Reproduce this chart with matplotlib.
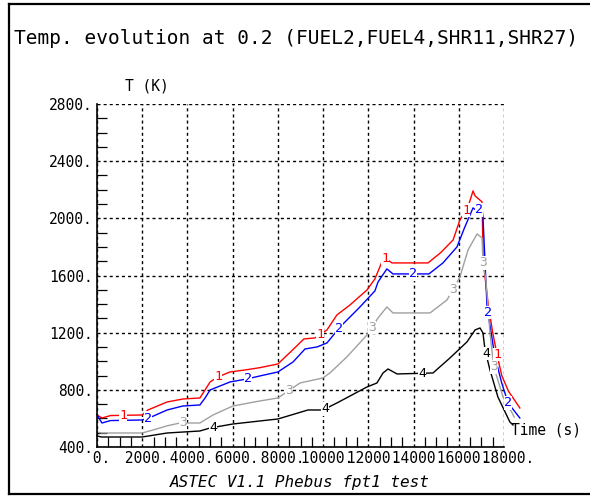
import numpy as np
import matplotlib
matplotlib.use("Agg")
import matplotlib.pyplot as plt
from matplotlib.lines import Line2D

# ---------------- data ----------------
t_fuel2 = [0, 220, 600, 2000, 2250, 3100, 3800, 4550, 4780, 5000, 5350, 5880, 6550, 7200,
           8000, 8650, 9150, 9640, 10170, 10610, 11190, 11940, 12290, 12600, 12750, 13050,
           14640, 15200, 15750, 16050, 16410, 16630, 16720, 17030, 17080, 17300, 17500,
           17700, 17900, 18200, 18500, 18700]
T_fuel2 = [624, 603, 620, 624, 659, 715, 736, 743, 799, 855, 890, 925, 939, 955,
           981, 1079, 1156, 1163, 1219, 1324, 1394, 1499, 1576, 1695, 1720, 1688,
           1688, 1760, 1849, 1989, 2080, 2192, 2157, 2115, 1700, 1400, 1200,
           1040, 900, 790, 720, 673]

t_fuel4 = [0, 220, 600, 2000, 2400, 3100, 3800, 4550, 4780, 5000, 5880, 6630, 7200, 8000,
           8670, 9200, 9730, 10170, 10750, 11630, 12290, 12430, 12820, 13090, 14680, 15300,
           15920, 16270, 16630, 16750, 17030, 17070, 17250, 17600, 17900, 18180, 18700]
T_fuel4 = [624, 568, 585, 589, 610, 659, 687, 694, 743, 799, 855, 876, 897, 925,
           995, 1086, 1100, 1128, 1240, 1380, 1492, 1555, 1646, 1611, 1611, 1688,
           1800, 1940, 2073, 2059, 2059, 2010, 1380, 1030, 848, 708, 603]

t_shr11 = [0, 200, 2000, 2500, 3100, 3670, 4550, 5130, 6010, 7200, 8000, 8980, 9990,
           10300, 11050, 11940, 12430, 12820, 13090, 14730, 15480, 16050, 16410, 16810,
           17030, 17070, 17200, 17380, 17550, 17960, 18360, 18450]
T_shr11 = [505, 498, 498, 520, 548, 568, 568, 624, 687, 722, 743, 848, 883,
           918, 1030, 1184, 1303, 1380, 1338, 1338, 1429, 1590, 1779, 1891,
           1863, 1688, 1569, 1198, 960, 750, 638, 610]

t_shr27 = [0, 200, 2000, 3100, 4550, 5000, 6010, 7200, 8000, 9330, 9990, 10610, 11940,
           12380, 12650, 12870, 13270, 14860, 15610, 16360, 16720, 16940, 17070, 17160,
           17380, 17730, 18260, 18400]
T_shr27 = [477, 470, 470, 498, 512, 533, 561, 582, 596, 659, 659, 708, 820,
           848, 918, 946, 911, 918, 1023, 1135, 1219, 1233, 1198, 1079,
           939, 750, 575, 554]

label_t_fuel2 = [1150, 5350, 9860, 12740, 16320, 17690]
label_t_fuel4 = [2250, 6680, 10700, 13980, 16890, 17290, 18180]
label_t_shr11 = [3800, 8500, 12160, 15750, 17070, 17550]
label_t_shr27 = [5130, 10080, 14370, 17200]

x_ticks = [0, 2000, 4000, 6000, 8000, 10000, 12000, 14000, 16000, 18000]
y_ticks = [400, 800, 1200, 1600, 2000, 2400, 2800]

title = "Temp. evolution at 0.2 (FUEL2,FUEL4,SHR11,SHR27)"
footer = "ASTEC V1.1 Phebus fpt1 test"

# ---------------- figure ----------------
W, H = 590, 497
fig = plt.figure(figsize=(W / 100, H / 100), dpi=100)
mono = "DejaVu Sans Mono"

ax = fig.add_axes([97 / W, 1 - 447 / H, (504 - 97) / W, (447 - 104) / H])
ax.set_xlim(0, 18000)
ax.set_ylim(400, 2800)

series = [
    (t_fuel2, T_fuel2, "#ff0000", "1", label_t_fuel2),
    (t_fuel4, T_fuel4, "#0000ff", "2", label_t_fuel4),
    (t_shr11, T_shr11, "#a0a0a0", "3", label_t_shr11),
    (t_shr27, T_shr27, "#000000", "4", label_t_shr27),
]
for t, T, c, lab, lt in series:
    ax.plot(t, T, color=c, lw=1.0, clip_on=False, zorder=3)
for t, T, c, lab, lt in series:
    for tt in lt:
        ax.text(tt, np.interp(tt, t, T), lab, color=c, fontsize=9.5, family=mono,
                ha="center", va="center", zorder=4, clip_on=False,
                bbox=dict(boxstyle="square,pad=0.02", fc="white", ec="none"))

# grid
ax.set_xticks(x_ticks)
ax.set_yticks(y_ticks)
ax.grid(True, color="black", lw=1.0, linestyle=(0, (2.2, 2.2)), zorder=1)
ax.set_axisbelow(True)
for s in ["top", "right"]:
    ax.spines[s].set_visible(False)
for s in ["left", "bottom"]:
    ax.spines[s].set_linewidth(1.2)
    ax.spines[s].set_zorder(5)

ax.set_xticks(np.arange(0, 18001, 500), minor=True)
ax.set_yticks(np.arange(400, 2801, 100), minor=True)
ax.tick_params(which="major", length=0, pad=3)
ax.tick_params(which="minor", length=7, direction="in", width=0.9,
               top=False, right=False)
ax.set_xticklabels([" %d." % v for v in x_ticks], family=mono, fontsize=10.5)
ax.set_yticklabels(["%d." % v for v in y_ticks], family=mono, fontsize=10.5)

# texts
fig.text(14 / W, 1 - 38 / H, title, family=mono, fontsize=14, ha="left", va="center")
fig.text(125 / W, 1 - 86 / H, "T (K)", family=mono, fontsize=10.5, ha="left", va="center")
fig.text(511 / W, 1 - 430 / H, "Time (s)", family=mono, fontsize=10.5, ha="left",
         va="center")
fig.text(300 / W, 1 - 483 / H, footer, family=mono, style="italic", fontsize=11.5,
         ha="center", va="center")

# outer frame
tr = fig.transFigure
fig.add_artist(Line2D([9 / W, 9 / W], [1 - 4 / H, 1 - 494 / H], color="black", lw=1.6,
                      transform=tr))
fig.add_artist(Line2D([9 / W, 1.0], [1 - 4 / H, 1 - 4 / H], color="black", lw=1.6,
                      transform=tr))
fig.add_artist(Line2D([9 / W, 1.0], [1 - 494 / H, 1 - 494 / H], color="black", lw=1.6,
                      transform=tr))

fig.savefig("out.png", dpi=100)
